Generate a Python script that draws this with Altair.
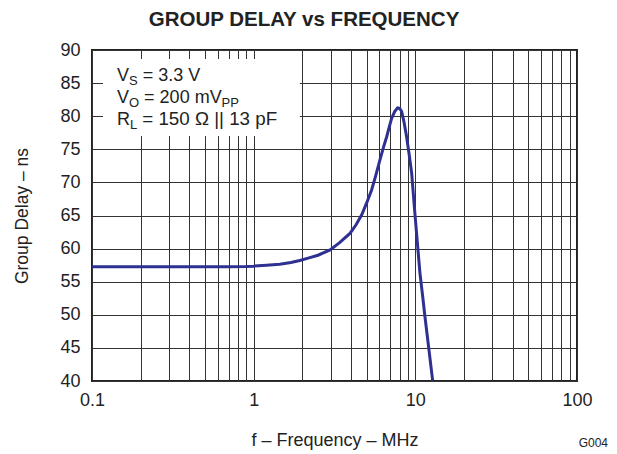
import altair as alt
import pandas as pd

# ---- data ----
freq_mhz = [0.1, 0.2, 0.3, 0.5, 0.7, 0.9, 1.0, 1.2, 1.45, 1.7, 1.93, 2.2, 2.5, 2.97,
            3.4, 3.94, 4.3, 4.66, 5.0, 5.37, 5.7, 6.04, 6.35, 6.65, 6.9, 7.14, 7.45,
            7.77, 8.0, 8.23, 8.5, 8.83, 9.15, 9.49, 9.94, 10.3, 10.68, 11.1, 11.47,
            12.1, 12.8]
delay_ns = [57.25, 57.25, 57.25, 57.25, 57.25, 57.3, 57.35, 57.5, 57.65, 57.9, 58.2,
            58.6, 59.0, 59.8, 60.9, 62.3, 63.6, 65.1, 66.9, 68.9, 71.1, 73.4, 75.3,
            76.9, 78.4, 79.7, 80.7, 81.25, 81.2, 80.7, 79.2, 76.9, 74.3, 71.4, 65.3,
            60.8, 56.3, 52.8, 49.7, 45.0, 40.05]

x_grid = [0.1, 0.2, 0.3, 0.4, 0.5, 0.6, 0.7, 0.8, 0.9,
          1, 2, 3, 4, 5, 6, 7, 8, 9,
          10, 20, 30, 40, 50, 60, 70, 80, 90, 100]
x_labels = [0.1, 1, 10, 100]
y_ticks = [40, 45, 50, 55, 60, 65, 70, 75, 80, 85, 90]

# legend box extent (data units)
box_f = [0.117, 1.93]
box_d = [77.0, 88.65]

FONT = "Liberation Sans"
TXT = "#222222"

df = pd.DataFrame({"f": freq_mhz, "d": delay_ns})

x_scale = alt.Scale(type="log", domain=[0.1, 100], nice=False)
y_scale = alt.Scale(domain=[40, 90], nice=False, zero=False)

label_expr = " || ".join([f"datum.value == {v}" for v in x_labels])
x_axis = alt.Axis(values=x_grid, labelExpr=f"({label_expr}) ? datum.label : ''",
                  format="~g", title="f \u2013 Frequency \u2013 MHz",
                  labelPadding=10, titlePadding=22, labelFlush=False, labelOverlap=False,
                  titleFontSize=18)
y_axis = alt.Axis(values=y_ticks, title="Group Delay \u2013 ns",
                  labelPadding=12, titlePadding=28, titleFontSize=17.5)

box = alt.Chart(pd.DataFrame({"x1": [box_f[0]], "x2": [box_f[1]],
                              "y1": [box_d[0]], "y2": [box_d[1]]})).mark_rect(
    fill="white", stroke=None).encode(
    x=alt.X("x1:Q", scale=x_scale, axis=x_axis),
    x2="x2:Q",
    y=alt.Y("y1:Q", scale=y_scale, axis=y_axis),
    y2="y2:Q",
)

line = alt.Chart(df).mark_line(color="#2e3092", strokeWidth=3).encode(
    x=alt.X("f:Q", scale=x_scale, axis=x_axis),
    y=alt.Y("d:Q", scale=y_scale, axis=y_axis),
)


def txt(s, x, y, size, align="left", weight="normal"):
    return alt.Chart(alt.Data(values=[{}])).mark_text(
        text=s, fontSize=size, align=align, baseline="alphabetic",
        font=FONT, color=TXT, fontWeight=weight).encode(
        x=alt.value(x), y=alt.value(y))


bx = 25
b1, b2, b3 = 31, 53, 75
main, sub, sdy = 18, 13, 4
annots = [
    txt("V", bx, b1, main), txt("S", bx + 12.0, b1 + sdy, sub),
    txt("= 3.3 V", bx + 25.7, b1, main),
    txt("V", bx, b2, main), txt("O", bx + 12.0, b2 + sdy, sub),
    txt("= 200 mV", bx + 27.1, b2, main), txt("PP", bx + 104.6, b2 + sdy, sub),
    txt("R", bx, b3, main), txt("L", bx + 13.0, b3 + sdy, sub),
    txt("= 150 \u03a9 || 13 pF", bx + 25.2, b3, main + 0.8),
    txt("GROUP DELAY vs FREQUENCY", 212, -24, 20.5, align="center", weight="bold"),
    txt("G004", 516, 397, 12, align="right"),
]

chart = alt.layer(box, line, *annots).properties(
    width=485, height=331,
    padding={"left": 84, "top": 42, "right": 32, "bottom": 70},
    autosize=alt.AutoSizeParams(type="none"),
).configure_axis(
    labelFont=FONT, labelFontSize=18, labelColor=TXT,
    titleFont=FONT, titleFontWeight="normal", titleColor=TXT,
    grid=True, gridColor="#333333", gridWidth=1, gridOpacity=1,
    ticks=False, domain=False,
).configure_view(stroke="#222222", strokeWidth=2)

chart.save("out.html", embed_options={"renderer": "svg", "actions": False})
